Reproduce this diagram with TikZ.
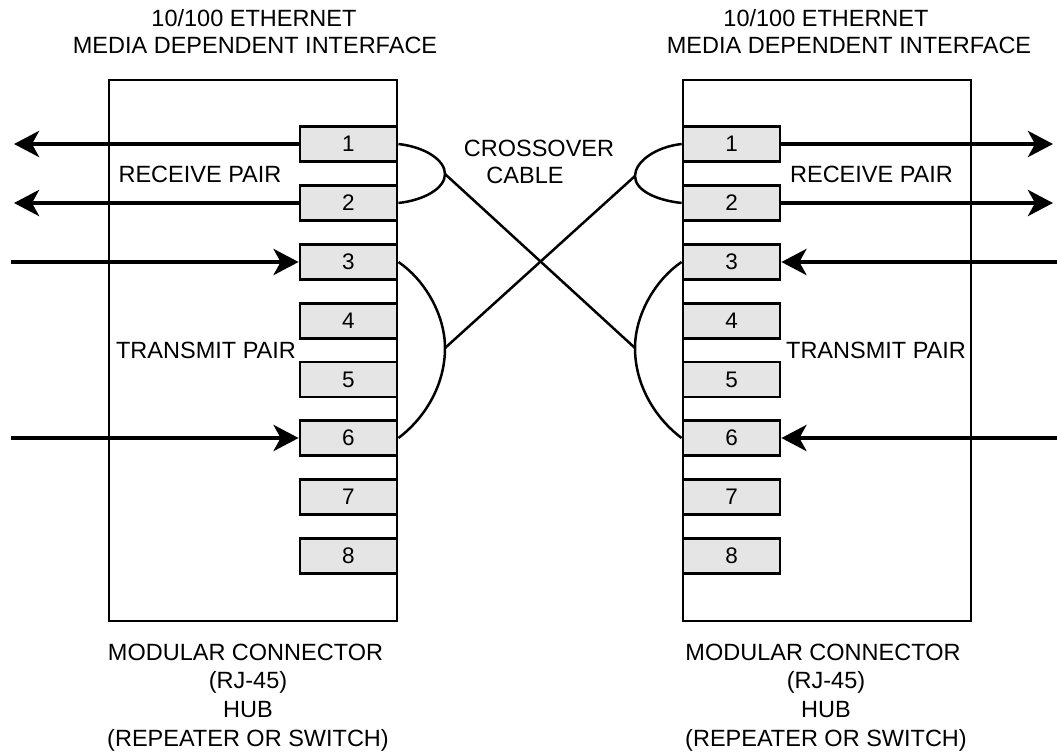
\documentclass[tikz,border=0pt]{standalone}
\usepackage{fontspec}
\setmainfont{Liberation Sans}
\usetikzlibrary{arrows.meta}
\definecolor{pingray}{RGB}{229,229,229}
\begin{document}
\begin{tikzpicture}[x=1pt,y=-1pt,
  pinbox/.style={draw, line width=2.8pt, fill=pingray, minimum width=97pt, minimum height=35pt, inner sep=0pt, font=\fontsize{22.5}{27}\selectfont},
  lbl/.style={font=\fontsize{23.5}{28}\selectfont, inner sep=0pt, anchor=base},
  sig/.style={line width=4.5pt, -{Stealth[length=25pt,width=26pt,inset=7pt]}},
  wire/.style={line width=2.5pt},
  housing/.style={draw, line width=2.8pt, inner sep=0pt}]
\useasboundingbox (0,0) rectangle (1057,753);

% housings
\node[housing, minimum width=288pt, minimum height=541pt] (hubL) at (253,350.5) {};
\node[housing, minimum width=288pt, minimum height=541pt] (hubR) at (827,350.5) {};

% free arrow ends
\coordinate (eL1) at (14,144);
\coordinate (eL2) at (14,203);
\coordinate (eL3) at (11,262);
\coordinate (eL6) at (11,438);
\coordinate (eR1) at (1053,144);
\coordinate (eR2) at (1053,203);
\coordinate (eR3) at (1057,262);
\coordinate (eR6) at (1057,438);

% pins
\foreach \i/\y in {1/144,2/203,3/262,4/321,5/379.5,6/438,7/497,8/556}{
  \node[pinbox] (L\i) at (348.5,\y) {\i};
  \node[pinbox] (R\i) at (731.5,\y) {\i};
}

% signal arrows
\draw[sig] (L1.west) -- (eL1);
\draw[sig] (L2.west) -- (eL2);
\draw[sig] (eL3) -- (L3.west);
\draw[sig] (eL6) -- (L6.west);
\draw[sig] (R1.east) -- (eR1);
\draw[sig] (R2.east) -- (eR2);
\draw[sig] (eR3) -- (R3.east);
\draw[sig] (eR6) -- (R6.east);

% crossover cable
\coordinate (aL1) at (445,174);
\coordinate (aL2) at (445,348);
\coordinate (aR1) at (635,176);
\coordinate (aR2) at (635,348);
\draw[wire] (L1.east) .. controls (425,147) and (445,160) .. (aL1)
                      .. controls (445,188) and (425,200) .. (L2.east);
\draw[wire] (L3.east) .. controls (425,280) and (445,315) .. (aL2)
                      .. controls (445,385) and (425,418) .. (L6.east);
\draw[wire] (R1.west) .. controls (655,147) and (635,162) .. (aR1)
                      .. controls (635,190) and (655,200) .. (R2.west);
\draw[wire] (R3.west) .. controls (655,280) and (635,315) .. (aR2)
                      .. controls (635,385) and (655,418) .. (R6.west);
\draw[wire] (aL1) -- (aR2);
\draw[wire] (aL2) -- (aR1);

% labels
\node[lbl] (tL1) at (254,26) {10/100 ETHERNET};
\node[lbl] (tL2) at (255,53) {MEDIA DEPENDENT INTERFACE};
\node[lbl] (tR1) at (826,26) {10/100 ETHERNET};
\node[lbl] (tR2) at (849,53) {MEDIA DEPENDENT INTERFACE};
\node[lbl] (cx1) at (539,156) {CROSSOVER};
\node[lbl] (cx2) at (525,183) {CABLE};
\node[lbl] (rpL) at (200,182) {RECEIVE PAIR};
\node[lbl] (rpR) at (871.5,182) {RECEIVE PAIR};
\node[lbl] (tpL) at (206,358) {TRANSMIT PAIR};
\node[lbl] (tpR) at (876,358) {TRANSMIT PAIR};
\node[lbl] (bL1) at (245.5,660) {MODULAR CONNECTOR};
\node[lbl] (bL2) at (248,688.5) {(RJ-45)};
\node[lbl] (bL3) at (248,717) {HUB};
\node[lbl] (bL4) at (248,746) {(REPEATER OR SWITCH)};
\node[lbl] (bR1) at (823,660) {MODULAR CONNECTOR};
\node[lbl] (bR2) at (826,688.5) {(RJ-45)};
\node[lbl] (bR3) at (826,717) {HUB};
\node[lbl] (bR4) at (826,746) {(REPEATER OR SWITCH)};
\end{tikzpicture}
\end{document}
